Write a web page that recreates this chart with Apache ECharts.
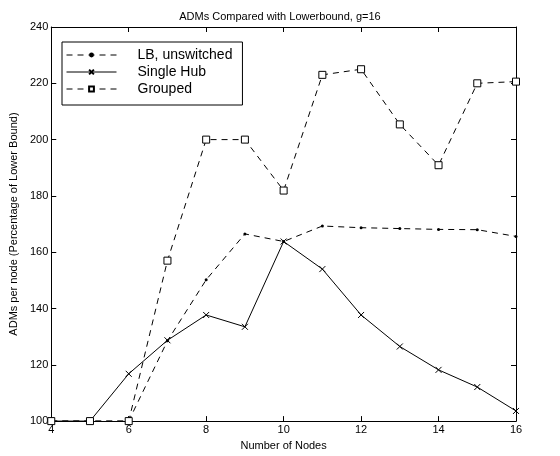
<!DOCTYPE html>
<html><head><meta charset="utf-8">
<script src="https://cdn.jsdelivr.net/npm/echarts@6/dist/echarts.min.js"></script>
<style>html,body{margin:0;padding:0;background:#fff}#c{width:560px;height:456px}</style>
</head><body><div id="c"></div>
<script>
var nodes = [4,5,6,7,8,9,10,11,12,13,14,15,16];
var lbUnswitched = [100,100,100,128.5,150.2,166.5,163.8,169.3,168.7,168.4,168.1,168.0,165.6];
var singleHub = [100,100,116.8,128.7,137.7,133.5,163.8,154.0,137.7,126.5,118.2,112.1,103.6];
var grouped = [100,100,100,157.0,200.0,200.0,181.9,223.0,225.0,205.4,190.9,220.0,220.6];
var seriesNames = ['LB, unswitched','Single Hub','Grouped'];
var xTicks = [4,6,8,10,12,14,16];
var yTicks = [100,120,140,160,180,200,220,240];

function pairs(v){ return nodes.map(function(n,i){return [n,v[i]];}); }
var font = 'Liberation Sans, Arial, sans-serif';
var chart = echarts.init(document.getElementById('c'));
var axisCommon = {
  axisLine:{show:true,onZero:false,lineStyle:{color:'#000',width:1}},
  axisTick:{show:true,inside:true,length:5,lineStyle:{color:'#000'}},
  splitLine:{show:false},
  nameTextStyle:{color:'#000',fontSize:11,fontFamily:font},
  axisLabel:{color:'#000',fontSize:11,fontFamily:font}
};
chart.setOption({
  animation:false,
  backgroundColor:'#fff',
  title:{text:'ADMs Compared with Lowerbound, g=16',left:'center',top:6,
    textStyle:{fontSize:11,fontWeight:'normal',color:'#000',fontFamily:font}},
  grid:{left:47,right:44,top:27,bottom:29,show:false},
  legend:{
    left:62,top:42,orient:'vertical',itemWidth:50,itemHeight:6,itemGap:3,
    padding:[6,10,9,4],borderColor:'#000',borderWidth:1,backgroundColor:'#fff',
    lineStyle:{width:1},
    textStyle:{fontSize:14,color:'#000',fontFamily:font,padding:[0,0,0,16]},
    data:seriesNames
  },
  xAxis:[
    Object.assign({},axisCommon,{type:'value',min:4,max:16,interval:2,position:'bottom',
      name:'Number of Nodes',nameLocation:'middle',nameGap:16,
      axisLabel:Object.assign({},axisCommon.axisLabel,{margin:3})}),
    Object.assign({},axisCommon,{type:'value',min:4,max:16,interval:2,position:'top',
      axisLabel:{show:false}})
  ],
  yAxis:[
    Object.assign({},axisCommon,{type:'value',min:100,max:240,interval:20,position:'left',
      name:'ADMs per node (Percentage of Lower Bound)',nameLocation:'middle',nameGap:24,
      axisLabel:Object.assign({},axisCommon.axisLabel,{margin:3})}),
    Object.assign({},axisCommon,{type:'value',min:100,max:240,interval:20,position:'right',
      axisLabel:{show:false}})
  ],
  series:[
    {name:seriesNames[0],type:'line',data:pairs(lbUnswitched),symbol:'circle',symbolSize:3,
      lineStyle:{color:'#000',width:1,type:[6,5]},itemStyle:{color:'#000'}},
    {name:seriesNames[1],type:'line',data:pairs(singleHub),
      symbol:'path://M0,0L10,10M10,0L0,10',symbolSize:6,
      lineStyle:{color:'#000',width:1,type:'solid'},
      itemStyle:{color:'#000',borderColor:'#000',borderWidth:1}},
    {name:seriesNames[2],type:'line',data:pairs(grouped),symbol:'rect',symbolSize:7,
      lineStyle:{color:'#000',width:1,type:[6,5]},
      itemStyle:{color:'#fff',borderColor:'#000',borderWidth:1}}
  ]
});
</script></body></html>
